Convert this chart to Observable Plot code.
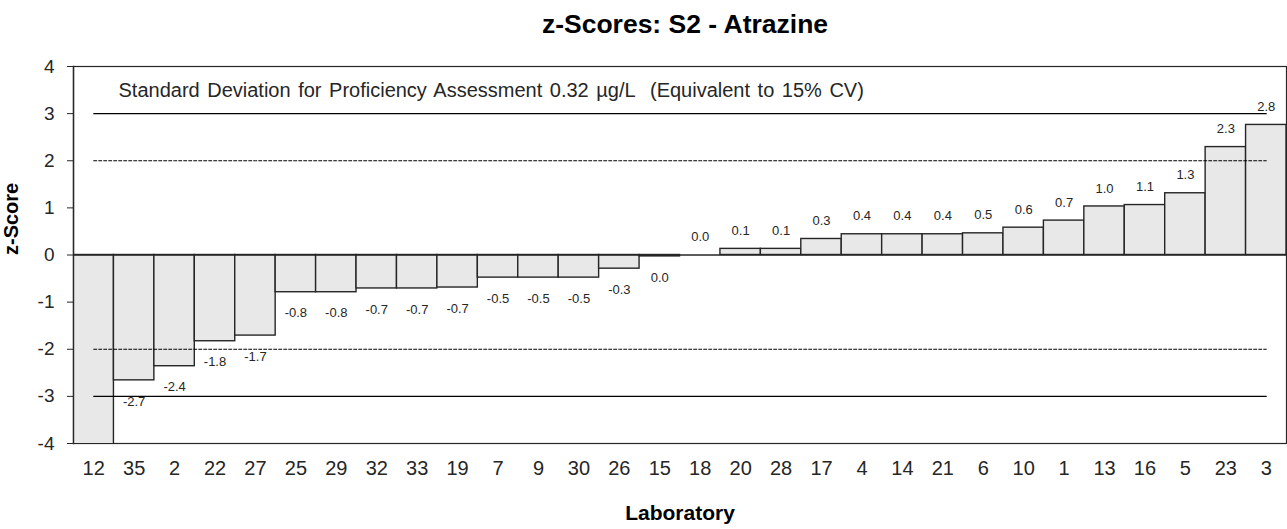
<!DOCTYPE html>
<html>
<head>
<meta charset="utf-8">
<script src="https://cdn.jsdelivr.net/npm/d3@7"></script>
<script src="https://cdn.jsdelivr.net/npm/@observablehq/plot@0.6"></script>
<style>
  html, body { margin: 0; padding: 0; background: #fff; }
  #chart svg { display: block; }
</style>
</head>
<body>
<div id="chart"></div>
<script>
const title = "z-Scores: S2 - Atrazine";
const note = "Standard Deviation for Proficiency Assessment 0.32 µg/L  (Equivalent to 15% CV)";
const xTitle = "Laboratory";
const yTitle = "z-Score";

const labs = ["12","35","2","22","27","25","29","32","33","19","7","9","30","26","15",
              "18","20","28","17","4","14","21","6","10","1","13","16","5","23","3"];
const zscores = [-4.5, -2.66, -2.36, -1.83, -1.71, -0.79, -0.79, -0.71, -0.71, -0.69,
                 -0.48, -0.48, -0.48, -0.29, -0.03, 0.0, 0.13, 0.13, 0.34, 0.44,
                 0.44, 0.44, 0.46, 0.58, 0.73, 1.03, 1.06, 1.31, 2.29, 2.76];
const warningLimits = [-2, 2];
const actionLimits = [-3, 3];
const yTicks = [-4, -3, -2, -1, 0, 1, 2, 3, 4];

const rows = labs.map((lab, i) => ({lab, z: zscores[i]}));
const fmt = v => (Math.abs(v) < 0.05 ? 0 : v).toFixed(1);
const limitRows = lims => lims.flatMap(v => labs.map(lab => ({lab, v})));

const font = "'Liberation Sans', Arial, sans-serif";
const ink = "#262626";

const chart = Plot.plot({
  width: 1287,
  height: 529,
  marginTop: 66,
  marginBottom: 86,
  marginLeft: 73,
  marginRight: 1,
  style: {fontFamily: font, color: ink, background: "#fff"},
  x: {type: "band", domain: labs, padding: 0, round: false},
  y: {domain: [-4, 4]},
  marks: [
    Plot.frame({stroke: ink, strokeWidth: 1.2}),
    Plot.barY(rows, {x: "lab", y: "z", fill: "#e8e8e8", stroke: ink, strokeWidth: 1.4, clip: true}),
    Plot.ruleY([0], {stroke: ink, strokeWidth: 1.4}),
    Plot.lineY(limitRows(actionLimits), {x: "lab", y: "v", z: "v", stroke: "#000", strokeWidth: 1.1}),
    Plot.lineY(limitRows(warningLimits), {x: "lab", y: "v", z: "v", stroke: "#000", strokeWidth: 1, strokeDasharray: "3,2"}),
    Plot.frame({anchor: "left", stroke: ink, strokeWidth: 1.4}),
    Plot.text(rows.filter(d => d.z >= 0), {x: "lab", y: "z", text: d => fmt(d.z), dy: -18, fontSize: 13, fill: ink, lineAnchor: "middle"}),
    Plot.text(rows.filter(d => d.z < 0 && d.z >= -4), {x: "lab", y: "z", text: d => fmt(d.z), dy: 21, fontSize: 13, fill: ink, lineAnchor: "middle"}),
    Plot.axisY({ticks: yTicks, tickSize: 6, tickPadding: 13, fontSize: 19, label: null, tickFormat: d => String(d), stroke: ink}),
    Plot.axisX({tickSize: 0, tickPadding: 17, fontSize: 20, label: null}),
    Plot.text([note], {text: d => d, frameAnchor: "top-left", dx: 45, dy: 24.5, textAnchor: "start", lineAnchor: "middle", fontSize: 20, fill: ink, className: "note"}),
    Plot.text([title], {text: d => d, frameAnchor: "top", dx: 5, dy: -42, lineAnchor: "middle", fontSize: 26.5, fontWeight: "bold", fill: "#000"}),
    Plot.text([xTitle], {text: d => d, frameAnchor: "bottom", dy: 70, lineAnchor: "middle", fontSize: 21, fontWeight: "bold", fill: "#000"}),
    Plot.text([yTitle], {text: d => d, frameAnchor: "left", dx: -62, rotate: -90, lineAnchor: "middle", fontSize: 20, fontWeight: "bold", fill: "#000"})
  ]
});
chart.querySelectorAll(".note text").forEach(t => t.style.wordSpacing = "2px");
document.getElementById("chart").appendChild(chart);
</script>
</body>
</html>
